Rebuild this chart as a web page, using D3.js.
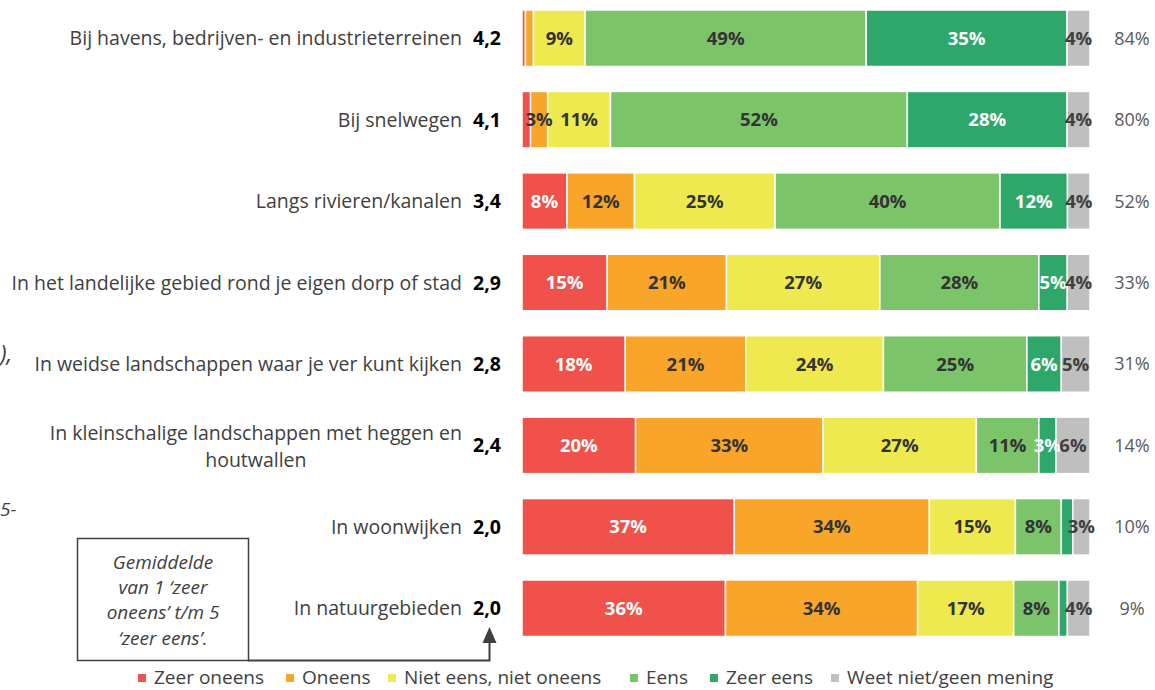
<!DOCTYPE html>
<html>
<head>
<meta charset="utf-8">
<script src="https://cdn.jsdelivr.net/npm/d3@7"></script>
<style>
  html, body { margin: 0; padding: 0; background: #fff; }
  svg { display: block; }
  .cat { font-family: "Open Sans", sans-serif; font-size: 19.5px; fill: #404040; }
  .mean { font-family: "Open Sans", sans-serif; font-size: 19.5px; font-weight: bold; fill: #000; }
  .seg { font-family: "Open Sans", sans-serif; font-size: 18.5px; font-weight: bold; }
  .pct { font-family: "Open Sans", sans-serif; font-size: 18px; fill: #595959; }
  .legend { font-family: "Open Sans", sans-serif; font-size: 19px; fill: #404040; }
  .note { font-family: "Open Sans", sans-serif; font-size: 19px; font-style: italic; fill: #404040; }
</style>
</head>
<body>
<svg id="chart" width="1155" height="690"></svg>
<script>
var categories = [
  "Bij havens, bedrijven- en industrieterreinen",
  "Bij snelwegen",
  "Langs rivieren/kanalen",
  "In het landelijke gebied rond je eigen dorp of stad",
  "In weidse landschappen waar je ver kunt kijken",
  "In kleinschalige landschappen met heggen en|houtwallen",
  "In woonwijken",
  "In natuurgebieden"
];
var means = ["4,2", "4,1", "3,4", "2,9", "2,8", "2,4", "2,0", "2,0"];
var agreeTotals = ["84%", "80%", "52%", "33%", "31%", "14%", "10%", "9%"];

var seriesNames = ["Zeer oneens", "Oneens", "Niet eens, niet oneens", "Eens", "Zeer eens", "Weet niet/geen mening"];
var seriesColors = ["#f0514a", "#f8a52a", "#ede94f", "#7bc46a", "#2ea76b", "#bfbfbf"];
var labelColors = ["#fff", "#333", "#333", "#333", "#fff", "#404040"];

var zeerOneens = [0.6, 1.5, 8, 15, 18, 20, 37, 36];
var oneens     = [1.4, 3, 12, 21, 21, 33, 34, 34];
var neutraal   = [9, 11, 25, 27, 24, 27, 15, 17];
var eens       = [49, 52, 40, 28, 25, 11, 8, 8];
var zeerEens   = [35, 28, 12, 5, 6, 3, 2, 1.5];
var weetNiet   = [4, 4, 4, 4, 5, 6, 3, 4];

var seriesValues = [zeerOneens, oneens, neutraal, eens, zeerEens, weetNiet];

var rows = categories.map(function(c, i) {
  var r = { cat: c, i: i };
  seriesNames.forEach(function(s, k) { r[s] = seriesValues[k][i]; });
  return r;
});

var svg = d3.select("#chart");

var x = d3.scaleLinear().domain([0, 1]).range([522, 1090]);
var y = d3.scaleBand().domain(categories).range([10, 636.5]).paddingInner(0.306).paddingOuter(0);
var color = d3.scaleOrdinal().domain(seriesNames).range(seriesColors);

var stack = d3.stack().keys(seriesNames).offset(d3.stackOffsetExpand);
var stacked = stack(rows);

// bars
var layers = svg.append("g").selectAll("g")
  .data(stacked)
  .join("g")
  .attr("fill", function(d) { return color(d.key); });

layers.selectAll("rect")
  .data(function(d) { return d; })
  .join("rect")
  .attr("x", function(d) { return x(d[0]); })
  .attr("y", function(d) { return y(d.data.cat); })
  .attr("width", function(d) { return Math.max(0, x(d[1]) - x(d[0])); })
  .attr("height", y.bandwidth())
  .attr("stroke", "#fff")
  .attr("stroke-width", 1.5);

// segment labels
stacked.forEach(function(layer, k) {
  svg.append("g").selectAll("text")
    .data(layer.filter(function(d) { return d.data[layer.key] >= 3; }))
    .join("text")
    .attr("class", "seg")
    .attr("x", function(d) { return (x(d[0]) + x(d[1])) / 2; })
    .attr("y", function(d) { return y(d.data.cat) + y.bandwidth() / 2; })
    .attr("dy", "0.36em")
    .attr("text-anchor", "middle")
    .attr("fill", labelColors[k])
    .text(function(d) { return Math.round(d.data[layer.key]) + "%"; });
});

// category labels (right aligned, wrapped lines centred to each other)
var catG = svg.append("g");
categories.forEach(function(c, i) {
  var lines = c.split("|");
  var cy = y(c) + y.bandwidth() / 2;
  var lh = 27;
  var t = catG.append("text").attr("class", "cat");
  lines.forEach(function(l) {
    t.append("tspan").text(l);
  });
  var widths = [];
  t.selectAll("tspan").each(function() { widths.push(this.getComputedTextLength()); });
  var w = d3.max(widths);
  var right = 462;
  if (lines.length === 1) {
    t.attr("text-anchor", "end");
    t.selectAll("tspan").attr("x", right).attr("y", cy).attr("dy", "0.36em");
  } else {
    t.attr("text-anchor", "middle");
    t.selectAll("tspan")
      .attr("x", right - w / 2)
      .attr("y", function(d, j) { return cy + 1.5 + (j - (lines.length - 1) / 2) * lh; })
      .attr("dy", "0.36em");
  }
});

// means
svg.append("g").selectAll("text")
  .data(means)
  .join("text")
  .attr("class", "mean")
  .attr("x", 473)
  .attr("y", function(d, i) { return y(categories[i]) + y.bandwidth() / 2; })
  .attr("dy", "0.36em")
  .text(function(d) { return d; });

// agree totals
svg.append("g").selectAll("text")
  .data(agreeTotals)
  .join("text")
  .attr("class", "pct")
  .attr("x", 1132)
  .attr("text-anchor", "middle")
  .attr("y", function(d, i) { return y(categories[i]) + y.bandwidth() / 2; })
  .attr("dy", "0.36em")
  .text(function(d) { return d; });

// text fragments at the left edge
svg.append("text").attr("class", "note").attr("x", 0).attr("y", 362).style("font-size", "23px").text("),");
svg.append("text").attr("class", "note").attr("x", 0).attr("y", 516).text("5-");

// note box with arrow to the mean column
var noteLines = ["Gemiddelde", "van 1 \u2018zeer", "oneens\u2019 t/m 5", "\u2018zeer eens\u2019."];
svg.append("rect")
  .attr("x", 77.5).attr("y", 538.5).attr("width", 171).attr("height", 122)
  .attr("fill", "#fff").attr("stroke", "#404040").attr("stroke-width", 1.5);
svg.append("g").selectAll("text")
  .data(noteLines)
  .join("text")
  .attr("class", "note")
  .attr("x", 163)
  .attr("y", function(d, i) { return 562 + i * 25.3; })
  .attr("dy", "0.36em")
  .attr("text-anchor", "middle")
  .text(function(d) { return d; });

var arrow = d3.path();
arrow.moveTo(248, 660.5);
arrow.lineTo(489.5, 660.5);
arrow.lineTo(489.5, 641);
svg.append("path").attr("d", arrow).attr("fill", "none").attr("stroke", "#404040").attr("stroke-width", 2);
var head = d3.path();
head.moveTo(489.5, 627);
head.lineTo(496.5, 643);
head.lineTo(482.5, 643);
head.closePath();
svg.append("path").attr("d", head).attr("fill", "#404040");

// legend
var legendX = [154, 302, 404, 646, 726, 847];
var lg = svg.append("g").selectAll("g")
  .data(seriesNames)
  .join("g")
  .attr("transform", function(d, i) { return "translate(" + legendX[i] + ",677)"; });
lg.append("rect").attr("x", -16).attr("y", -3).attr("width", 8).attr("height", 8)
  .attr("fill", function(d) { return color(d); });
lg.append("text").attr("class", "legend").attr("x", 0).attr("y", 0).attr("dy", "0.36em")
  .text(function(d) { return d; });
</script>
</body>
</html>
